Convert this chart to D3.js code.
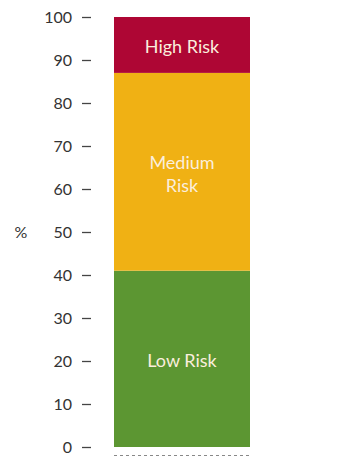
<!DOCTYPE html>
<html><head><meta charset="utf-8">
<script src="https://cdn.jsdelivr.net/npm/d3@7"></script>
<style>html,body{margin:0;padding:0;background:#fff;}svg{display:block;}</style>
</head><body>
<svg id="c" width="340" height="457"></svg>
<script>
const categories = ["Low Risk", "Medium Risk", "High Risk"];
const segmentStart = [0, 41, 87];
const segmentEnd = [41, 87, 100];
const colors = ["#5C9632", "#F0B114", "#AE0634"];
const labelLines = [["Low Risk"], ["Medium", "Risk"], ["High Risk"]];
const tickValues = [0, 10, 20, 30, 40, 50, 60, 70, 80, 90, 100];
const axisTitle = "%";

const svg = d3.select("#c");
const y = d3.scaleLinear().domain([0, 100]).range([447, 17]);
const x = d3.scaleBand().domain(["risk"]).range([114, 250]).padding(0);
const font = "Lato, 'Open Sans', sans-serif";

const axis = d3.axisLeft(y).tickValues(tickValues).tickSize(9).tickPadding(10);
const g = svg.append("g").attr("transform", "translate(91,0)").call(axis);
g.select(".domain").remove();
g.selectAll(".tick line").attr("stroke", "#444").attr("stroke-width", 1.3);
g.selectAll(".tick text").attr("fill", "#333").style("font-family", font).style("font-size", "16px");

svg.append("text").attr("x", 21).attr("y", y(50)).attr("dy", "0.35em")
  .attr("text-anchor", "middle").attr("fill", "#333")
  .style("font-family", font).style("font-size", "16px").text(axisTitle);

const bars = svg.append("g");
categories.forEach((c, i) => {
  bars.append("rect")
    .attr("x", x("risk")).attr("width", x.bandwidth())
    .attr("y", y(segmentEnd[i])).attr("height", y(segmentStart[i]) - y(segmentEnd[i]))
    .attr("fill", colors[i]);
  const mid = (segmentStart[i] + segmentEnd[i]) / 2;
  const lines = labelLines[i];
  const lh = 23;
  const t = bars.append("text").attr("text-anchor", "middle").attr("fill", "#fbeedd")
    .style("font-family", font).style("font-size", "18px");
  lines.forEach((l, k) => {
    t.append("tspan").attr("x", x("risk") + x.bandwidth() / 2)
      .attr("y", y(mid) + (k - (lines.length - 1) / 2) * lh + 2)
      .attr("dy", "0.35em").text(l);
  });
});

svg.append("line").attr("x1", x("risk")).attr("x2", x("risk") + x.bandwidth())
  .attr("y1", 455.5).attr("y2", 455.5)
  .attr("stroke", "#888").attr("stroke-width", 1.2).attr("stroke-dasharray", "3,3");
</script>
</body></html>
